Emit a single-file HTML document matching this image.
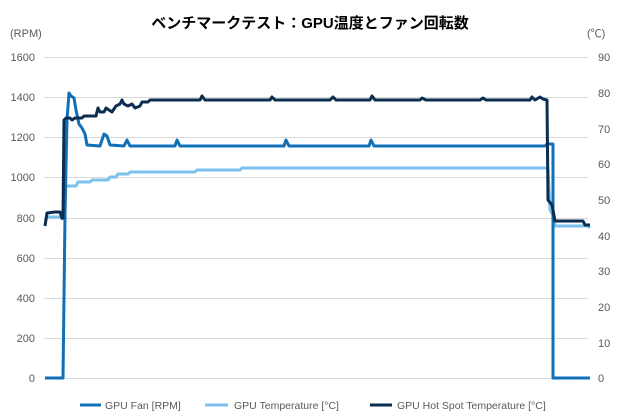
<!DOCTYPE html>
<html><head><meta charset="utf-8"><style>
body{margin:0;background:#fff;}
svg{display:block;font-family:"Liberation Sans","Noto Sans CJK JP",sans-serif;}
</style></head><body>
<svg width="620" height="420" viewBox="0 0 620 420" xmlns="http://www.w3.org/2000/svg">
<text x="310" y="28" text-anchor="middle" font-size="15" font-weight="bold" fill="#000">ベンチマークテスト：GPU温度とファン回転数</text>
<text x="10" y="37" font-size="11" fill="#595959">(RPM)</text>
<text x="587" y="37" font-size="11" fill="#595959">(℃)</text>
<g stroke="#d9d9d9" stroke-width="1">
<line x1="44" x2="588" y1="57.5" y2="57.5"/><line x1="44" x2="588" y1="97.5" y2="97.5"/>
<line x1="44" x2="588" y1="137.5" y2="137.5"/><line x1="44" x2="588" y1="177.5" y2="177.5"/>
<line x1="44" x2="588" y1="218.5" y2="218.5"/><line x1="44" x2="588" y1="258.5" y2="258.5"/>
<line x1="44" x2="588" y1="298.5" y2="298.5"/><line x1="44" x2="588" y1="338.5" y2="338.5"/>
<line x1="44" x2="588" y1="378.5" y2="378.5"/>
</g>
<g font-size="11" fill="#595959" text-anchor="end">
<text x="35" y="61">1600</text><text x="35" y="101">1400</text><text x="35" y="141">1200</text>
<text x="35" y="181">1000</text><text x="35" y="222">800</text><text x="35" y="262">600</text>
<text x="35" y="302">400</text><text x="35" y="342">200</text><text x="35" y="382">0</text>
</g>
<g font-size="11" fill="#595959" text-anchor="start">
<text x="598" y="61">90</text><text x="598" y="97">80</text><text x="598" y="133">70</text>
<text x="598" y="168">60</text><text x="598" y="204">50</text><text x="598" y="240">40</text>
<text x="598" y="275">30</text><text x="598" y="311">20</text><text x="598" y="347">10</text>
<text x="598" y="382">0</text>
</g>
<g fill="none" stroke-width="3" stroke-linejoin="round">
<polyline stroke="#7cc0ee" points="45,220 48,217 60,217 62,219 64,216 65,186 76,186 78,182 90,182 92,180 108,180 110,177 116,177 118,174 128,174 130,172 195,172 197,170 240,170 242,168 548,168 550,210 553,215 555,226 588,226 590,228"/>
<polyline stroke="#0f70b7" points="45,378 63,378 65,215 67,120 69,93 71,96 74,98 76,110 79,124 82,128 85,134 87,145 100,146 102,140 104,134 107,136 110,145 124,146 127,140 130,146 175,146 177,140 180,146 284,146 286,140 289,146 369,146 371,140 374,146 545,146 547,144 553,144 553,378 590,378"/>
<polyline stroke="#0b2d4f" points="45,226 47,213 55,212 60,212 62,218 63,218 64,120 66,118 70,118 72,120 75,118 82,118 84,116 96,116 98,108 100,112 104,112 106,108 112,112 116,106 120,104 122,100 124,104 128,106 132,104 135,108 140,106 142,102 148,102 150,100 200,100 202,96 205,100 270,100 272,97 275,100 330,100 333,97 336,100 370,100 372,96 375,100 420,100 422,98 426,100 480,100 483,98 486,100 530,100 532,97 535,100 540,97 543,99 547,100 548,200 552,205 555,221 583,221 585,225 590,225"/>
</g>
<g font-size="10.5" fill="#595959">
<line x1="80" x2="101" y1="405" y2="405" stroke="#0f70b7" stroke-width="3"/>
<text x="105" y="409">GPU Fan [RPM]</text>
<line x1="205" x2="228" y1="405" y2="405" stroke="#7cc0ee" stroke-width="3"/>
<text x="234" y="409">GPU Temperature [°C]</text>
<line x1="370" x2="392" y1="405" y2="405" stroke="#0b2d4f" stroke-width="3"/>
<text x="397" y="409">GPU Hot Spot Temperature [°C]</text>
</g>
</svg>
</body></html>
